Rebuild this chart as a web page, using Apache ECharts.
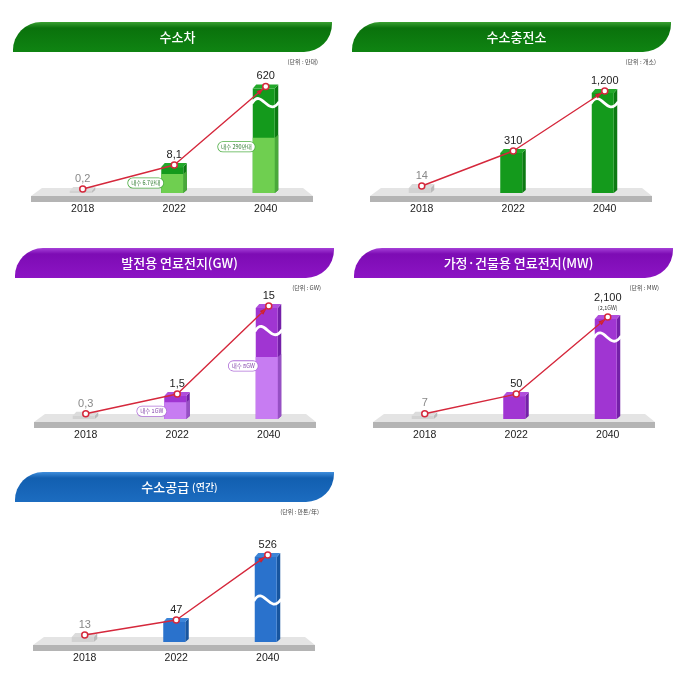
<!DOCTYPE html>
<html>
<head>
<meta charset="utf-8">
<style>html,body{margin:0;background:#fff}#main{width:700px;height:685px}</style>
<script src="https://cdn.jsdelivr.net/npm/echarts@6/dist/echarts.min.js"></script>
</head>
<body>
<div id="main"></div>
<script>
var years = ['2018', '2022', '2040'];

var carValues = [0.2, 8.1, 620];
var carDomestic = [null, 6.7, 290];
var carLabels = ['0,2', '8,1', '620'];
var carNotes = [null, '내수 6.7만대', '내수 290만대'];
var carBreaks = [{start: 6.8, end: 8, gap: 8.5}, {start: 8.5, end: 289, gap: 24}, {start: 290.5, end: 613, gap: 34}];

var stationValues = [14, 310, 1200];
var stationLabels = ['14', '310', '1,200'];
var stationBreaks = [{start: 320, end: 1100, gap: 47}];

var powerValues = [0.3, 1.5, 15];
var powerDomestic = [null, 1, 8];
var powerLabels = ['0,3', '1,5', '15'];
var powerNotes = [null, '내수 1GW', '내수 8GW'];
var powerBreaks = [{start: 1.6, end: 7.9, gap: 33.8}, {start: 8.2, end: 13.5, gap: 23}];

var homeValues = [7, 50, 2100];
var homeLabels = ['7', '50', '2,100'];
var homeBreaks = [{start: 55, end: 2056, gap: 54.7}];

var supplyValues = [13, 47, 526];
var supplyLabels = ['13', '47', '526'];
var supplyBreaks = [{start: 50, end: 424, gap: 18.7}];

var green = {head: ['#3aa032', '#0a720c', '#0f8412'], front: '#149a1c', light: '#6fcf50', side: '#0c7a12', lightSide: '#4aa83a', top: '#22a82a', pill: '#4fae45', note: '#2c7a2c'};
var purple = {head: ['#a640d8', '#7d0cb4', '#8c14c4'], front: '#a035d2', light: '#c77cf2', side: '#7420a8', lightSide: '#9650c4', top: '#b04edc', pill: '#b070d8', note: '#8040a8'};
var blue = {head: ['#3f8edc', '#125fb0', '#1c6cc0'], front: '#2a72cc', light: '#2a72cc', side: '#17559f', lightSide: '#17559f', top: '#3d85d8', pill: '#2a72cc', note: '#2a72cc'};

var panels = [
	{name: 'car', ox: 0, oy: 0, hx: 13, hy: 22, title: '수소차', unit: '(단위 : 만대)', ux: 318, uy: 62, color: green,
		values: carValues, domestic: carDomestic, labels: carLabels, notes: carNotes, breaks: carBreaks, min: -1.54, max: 625, wave: 613},
	{name: 'station', ox: 339, oy: 0, hx: 352, hy: 22, title: '수소충전소', unit: '(단위 : 개소)', ux: 656, uy: 62, color: green,
		values: stationValues, labels: stationLabels, breaks: stationBreaks, min: -45, max: 1335, wave: 1100},
	{name: 'power', ox: 3, oy: 226, hx: 15, hy: 248, title: '발전용 연료전지(GW)', unit: '(단위 : GW)', ux: 321, uy: 288, color: purple,
		values: powerValues, domestic: powerDomestic, labels: powerLabels, notes: powerNotes, breaks: powerBreaks, min: -0.02, max: 15.3, wave: 13.5},
	{name: 'home', ox: 342, oy: 226, hx: 354, hy: 248, title: '가정·건물용 연료전지(MW)', unit: '(단위 : MW)', ux: 659, uy: 288, color: purple,
		values: homeValues, labels: homeLabels, breaks: homeBreaks, min: -4.6, max: 2135, wave: 2056, sub: '(2,1GW)'},
	{name: 'supply', ox: 2, oy: 449, hx: 15, hy: 472, title: '{b|수소공급} {s|(연간)}', unit: '(단위 : 만톤/年)', ux: 319, uy: 512, color: blue,
		values: supplyValues, labels: supplyLabels, breaks: supplyBreaks, min: -2.9, max: 596, wave: 424}
];

var FONT = '"Noto Sans CJK KR", sans-serif';
var NUM = '"Liberation Sans", sans-serif';
var PLOT_H = 118;
var grids = [], xAxes = [], yAxes = [], series = [], titles = [], graphics = [];

function barRenderer(p) {
	return function(params, api) {
		var i = api.value(0), c = p.color, gray = i === 0;
		var top = api.coord([i, api.value(1)]);
		var base = params.coordSys.y + params.coordSys.height;
		var xL = top[0] - 13, xR = top[0] + 9, y = top[1], d = 3.5;
		var kids = [];
		var front = gray ? '#d2d2d2' : c.front, side = gray ? '#bbbbbb' : c.side, cap = gray ? '#dcdcdc' : c.top;
		function poly(pts, fill) {
			kids.push({type: 'polygon', shape: {points: pts}, style: {fill: fill}});
		}
		poly([[xR, y + 2], [xR + d, y - 2], [xR + d, base - 3], [xR, base]], side);
		poly([[xL, y + 2], [xR, y + 2], [xR, base], [xL, base]], front);
		poly([[xL, y + 2], [xR, y + 2], [xR + d, y - 2], [xL + d, y - 2]], cap);
		var split = p.domestic ? p.domestic[i] : null;
		if (split != null) {
			var sy = api.coord([i, split])[1];
			poly([[xR, sy], [xR + d, sy - 3], [xR + d, base - 3], [xR, base]], c.lightSide);
			poly([[xL, sy], [xR, sy], [xR, base], [xL, base]], c.light);
			kids.push({type: 'text', z2: 20, style: {
				text: p.notes[i], x: xL + 2, y: sy + 9, align: 'right', verticalAlign: 'middle',
				font: '5.5px ' + FONT, fill: c.note, backgroundColor: '#fff',
				borderColor: c.pill, borderWidth: 0.8, borderRadius: 5, padding: [2, 3]
			}});
		}
		if (i === 2) {
			var wy = api.coord([i, p.wave])[1];
			kids.push({type: 'bezierCurve', z2: 10, shape: {
				x1: xL - 1, y1: wy + 1, cpx1: xL + 9, cpy1: wy - 16, cpx2: xR - 7, cpy2: wy + 16, x2: xR + d + 1, y2: wy - 1
			}, style: {stroke: '#fff', lineWidth: 2.8, fill: null}});
			// arrow head on the last stretch of the trend line
			var prev = api.coord([1, p.values[1]]);
			var len = Math.sqrt(Math.pow(top[0] - prev[0], 2) + Math.pow(top[1] - prev[1], 2));
			var ux = (top[0] - prev[0]) / len, uy = (top[1] - prev[1]) / len;
			var tx = top[0] - ux * 3, ty = top[1] - uy * 3;
			var bx = tx - ux * 7, by = ty - uy * 7;
			kids.push({type: 'polygon', z2: 15, shape: {points: [[tx, ty], [bx - uy * 2.5, by + ux * 2.5], [bx + uy * 2.5, by - ux * 2.5]]}, style: {fill: '#c8202f'}});
		}
		return {type: 'group', children: kids};
	};
}

function headerGraphic(p) {
	var c = p.color.head;
	graphics.push({type: 'rect', z: 0, shape: {x: p.hx, y: p.hy, width: 319, height: 30, r: [28, 0, 28, 0]}, style: {
		fill: new echarts.graphic.LinearGradient(0, 0, 0, 1, [{offset: 0, color: c[0]}, {offset: 0.2, color: c[1]}, {offset: 1, color: c[2]}])
	}});
	graphics.push({type: 'polygon', z: 0, shape: {points: [[p.ox + 42, p.oy + 188], [p.ox + 303, p.oy + 188], [p.ox + 313, p.oy + 196], [p.ox + 31, p.oy + 196]]}, style: {fill: '#e4e4e4'}});
	graphics.push({type: 'rect', z: 0, shape: {x: p.ox + 31, y: p.oy + 196, width: 282, height: 6}, style: {fill: '#b4b4b4'}});
	graphics.push({type: 'text', z: 5, style: {text: p.unit, x: p.ux, y: p.uy, align: 'right', verticalAlign: 'middle', font: '6px ' + FONT, fill: '#444'}});
}

panels.forEach(function(p, k) {
	headerGraphic(p);
	titles.push({
		text: p.title, left: p.hx + 159.5, top: p.hy + 4, textAlign: 'center',
		textStyle: {color: '#fff', fontFamily: FONT, fontSize: 13, fontWeight: 500,
			rich: {b: {color: '#fff', fontFamily: FONT, fontSize: 13, fontWeight: 500}, s: {color: '#fff', fontFamily: FONT, fontSize: 10, fontWeight: 500}}}
	});
	grids.push({left: p.ox + 37, width: 274.5, top: p.oy + 193 - PLOT_H, height: PLOT_H});
	xAxes.push({
		type: 'category', gridIndex: k, data: years,
		axisLine: {show: false}, axisTick: {show: false},
		axisLabel: {margin: 11, color: '#222', fontFamily: NUM, fontSize: 10.5}
	});
	yAxes.push({
		type: 'value', gridIndex: k, show: false, min: p.min, max: p.max,
		splitLine: {show: false}, breakArea: {show: false},
		breaks: p.breaks.map(function(b) {
			return {start: b.start, end: b.end, gap: (b.gap / PLOT_H * 100) + '%'};
		})
	});
	series.push({
		type: 'custom', name: p.name, xAxisIndex: k, yAxisIndex: k, silent: true,
		renderItem: barRenderer(p),
		data: p.values.map(function(v, i) { return [i, v]; }),
		encode: {x: 0, y: 1}, z: 2
	});
	series.push({
		type: 'line', xAxisIndex: k, yAxisIndex: k, silent: true, z: 4,
		data: p.values, symbol: 'circle', symbolSize: 6, showSymbol: true,
		lineStyle: {color: '#d5283c', width: 1.4},
		itemStyle: {color: '#fff', borderColor: '#d5283c', borderWidth: 1.5},
		label: {
			show: true, position: 'top', distance: 1, fontFamily: NUM, fontSize: 11, color: '#222',
			formatter: function(o) {
				if (o.dataIndex === 2 && p.sub) {
					return '{v|' + p.labels[2] + '}\n{s|' + p.sub + '}';
				}
				return o.dataIndex === 0 ? '{g|' + p.labels[0] + '}' : p.labels[o.dataIndex];
			},
			rich: {
				g: {color: '#888', fontFamily: NUM, fontSize: 11},
				v: {color: '#222', fontFamily: NUM, fontSize: 11, lineHeight: 12},
				s: {color: '#333', fontFamily: FONT, fontSize: 5.5, lineHeight: 8}
			}
		}
	});
});

var chart = echarts.init(document.getElementById('main'), null, {renderer: 'canvas'});
chart.setOption({
	animation: false,
	backgroundColor: '#fff',
	title: titles,
	grid: grids,
	xAxis: xAxes,
	yAxis: yAxes,
	series: series,
	graphic: graphics
});
</script>
</body>
</html>
